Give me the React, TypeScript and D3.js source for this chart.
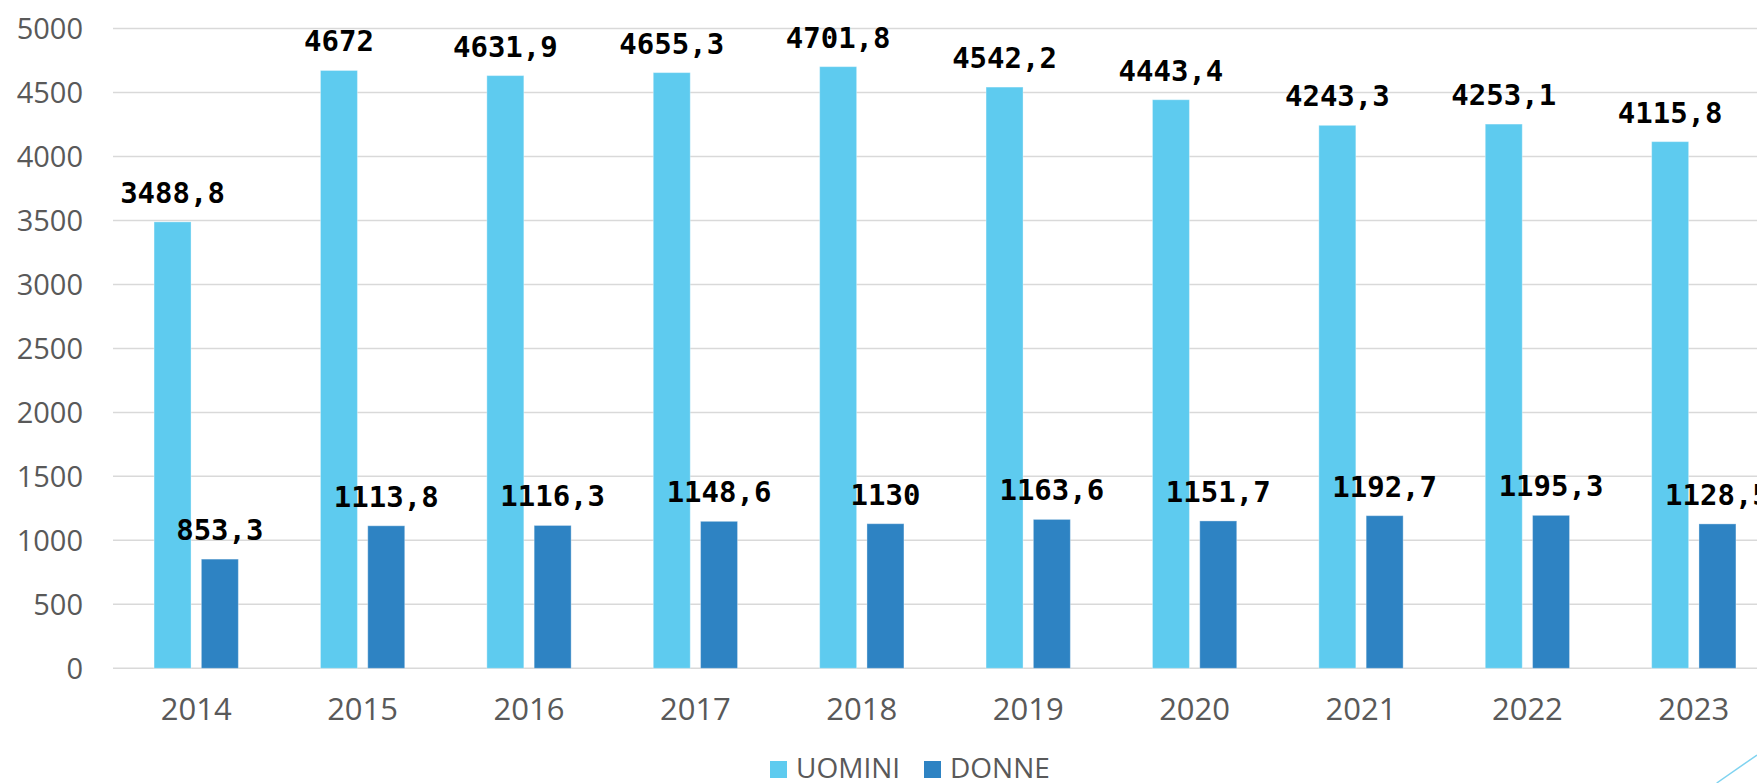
import { useEffect, useRef } from 'react';
import * as d3 from 'd3';

const years = ['2014', '2015', '2016', '2017', '2018', '2019', '2020', '2021', '2022', '2023'];
const uomini = [3488.8, 4672, 4631.9, 4655.3, 4701.8, 4542.2, 4443.4, 4243.3, 4253.1, 4115.8];
const donne = [853.3, 1113.8, 1116.3, 1148.6, 1130, 1163.6, 1151.7, 1192.7, 1195.3, 1128.5];
const seriesNames = ['UOMINI', 'DONNE'];
const yTicks = [0, 500, 1000, 1500, 2000, 2500, 3000, 3500, 4000, 4500, 5000];

const colors: Record<string, string> = { UOMINI: '#5ECBEF', DONNE: '#2E83C3' };
const fmt = (v: number) => String(v).replace('.', ',');

export default function App() {
  const svgRef = useRef<SVGSVGElement>(null);

  useEffect(() => {
    if (!svgRef.current) return;
    const svg = d3.select(svgRef.current);
    svg.selectAll('*').remove();

    const W = 1757;
    const left = 113;
    const step = 166.4;
    const x = d3.scaleBand().domain(years).range([left, left + step * years.length]).padding(0);
    const xs = d3.scaleBand().domain(seriesNames).range([0, step]).paddingInner(0.218).paddingOuter(0.868);
    const y = d3.scaleLinear().domain([0, 5000]).range([668.3, 28.5]);

    // gridlines
    svg.append('g').selectAll('line').data(yTicks).join('line')
      .attr('x1', left).attr('x2', W + 40)
      .attr('y1', (d) => y(d)).attr('y2', (d) => y(d))
      .attr('stroke', '#D9D9D9').attr('stroke-width', 1.5);

    // y labels
    svg.append('g').selectAll('text').data(yTicks).join('text')
      .attr('x', 83).attr('y', (d) => y(d)).attr('dy', '0.36em')
      .attr('text-anchor', 'end')
      .attr('fill', '#595959')
      .style('font-family', '"Open Sans", sans-serif').style('font-size', '29px')
      .text((d) => String(d));

    const rows = years.map((yr, i) => ({ yr, vals: [uomini[i], donne[i]] }));
    const groups = svg.append('g').selectAll('g').data(rows).join('g')
      .attr('transform', (d) => `translate(${x(d.yr)},0)`);

    groups.selectAll('rect').data((d) => seriesNames.map((s, j) => ({ s, v: d.vals[j] }))).join('rect')
      .attr('x', (d) => xs(d.s)!)
      .attr('y', (d) => y(d.v))
      .attr('width', xs.bandwidth())
      .attr('height', (d) => y(0) - y(d.v))
      .attr('fill', (d) => colors[d.s])
      .attr('stroke', 'rgba(255,255,255,0.35)').attr('stroke-width', 1);

    groups.selectAll('text.val').data((d) => seriesNames.map((s, j) => ({ s, v: d.vals[j] }))).join('text')
      .attr('class', 'val')
      .attr('x', (d) => xs(d.s)! + xs.bandwidth() / 2)
      .attr('y', (d) => y(d.v) - 19)
      .attr('text-anchor', 'middle')
      .attr('fill', '#000')
      .style('font-family', '"DejaVu Sans Mono", monospace').style('font-weight', 'bold').style('font-size', '29px')
      .text((d) => fmt(d.v));

    // x labels
    svg.append('g').selectAll('text').data(years).join('text')
      .attr('x', (d) => x(d)! + x.bandwidth() / 2)
      .attr('y', 720)
      .attr('text-anchor', 'middle')
      .attr('fill', '#595959')
      .style('font-family', '"Open Sans", sans-serif').style('font-size', '31px')
      .text((d) => d);

    // legend
    const legend = [{ s: 'UOMINI', x: 770 }, { s: 'DONNE', x: 924 }];
    const lg = svg.append('g');
    legend.forEach((l) => {
      lg.append('rect').attr('x', l.x).attr('y', 761).attr('width', 17).attr('height', 17).attr('fill', colors[l.s]);
      lg.append('text').attr('x', l.x + 26).attr('y', 778)
        .attr('fill', '#595959')
        .style('font-family', '"Open Sans", sans-serif').style('font-size', '28px')
        .text(l.s);
    });

    // decorative corner line
    svg.append('line').attr('x1', 1716.7).attr('y1', 783).attr('x2', 1757).attr('y2', 755)
      .attr('stroke', '#7FD3F0').attr('stroke-width', 1.5);
  }, []);

  return (
    <div style={{ position: 'fixed', left: 0, top: 0, width: 1757, height: 783, overflow: 'hidden', background: '#fff' }}>
      <svg ref={svgRef} width={1757} height={783} style={{ display: 'block' }} />
    </div>
  );
}
